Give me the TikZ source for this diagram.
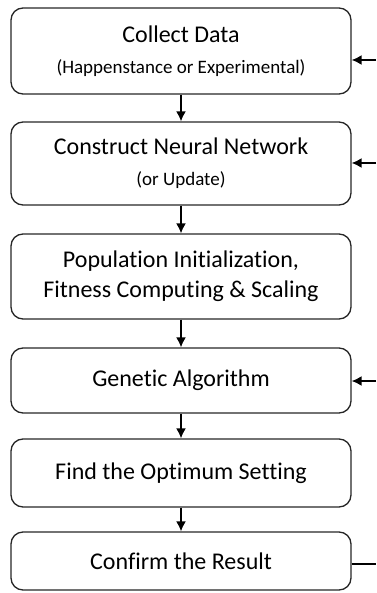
\documentclass[tikz,border=0pt]{standalone}
\usepackage{fontspec}
\setmainfont{Carlito}[Ligatures=NoCommon]
\usepackage{tikz}
\usetikzlibrary{arrows.meta, positioning, calc}

\tikzset{
    stage/.style={draw=black!85, line width=1.3pt, rounded corners=12pt,
        minimum width=340pt, align=center, inner sep=0pt,
        font=\fontsize{24}{30}\selectfont},
    flow/.style={-{Latex[length=10pt,width=10pt]}, line width=1.6pt},
    back/.style={line width=1.6pt}
}
\newcommand{\subnote}[1]{{\fontsize{19}{22}\selectfont #1}}

\begin{document}
\begin{tikzpicture}[x=1pt,y=-1pt]
    \useasboundingbox (0,0) rectangle (376,593);

    % the six steps, top to bottom
    \node[stage, minimum height=86pt] (collect) at (181,51) {Collect Data\\[1pt]\subnote{(Happenstance or Experimental)}};
    \node[stage, minimum height=83pt] (network) at (181,163.5) {Construct Neural Network\\[1pt]\subnote{(or Update)}};
    \node[stage, minimum height=85pt] (init) at (181,276.5) {Population Initialization,\\Fitness Computing \& Scaling};
    \node[stage, minimum height=65pt] (ga) at (181,380.5) {Genetic Algorithm};
    \node[stage, minimum height=68pt] (optimum) at (181,473) {Find the Optimum Setting};
    \node[stage, minimum height=58pt] (confirm) at (181,561) {Confirm the Result};

    % down the chain
    \draw[flow] (collect) -- (network);
    \draw[flow] (network) -- (init);
    \draw[flow] (init) -- (ga);
    \draw[flow] (ga) -- (optimum);
    \draw[flow] (optimum) -- (confirm);

    % loose ends on the right
    \coordinate (in1) at (376,60);
    \coordinate (in2) at (376,163);
    \coordinate (in4) at (376,381);
    \coordinate (out6) at (376,564);
    \draw[flow] (in1) -- (collect.east |- in1);
    \draw[flow] (in2) -- (network.east |- in2);
    \draw[flow] (in4) -- (ga.east |- in4);
    \draw[back] (confirm.east |- out6) -- (out6);
\end{tikzpicture}
\end{document}
